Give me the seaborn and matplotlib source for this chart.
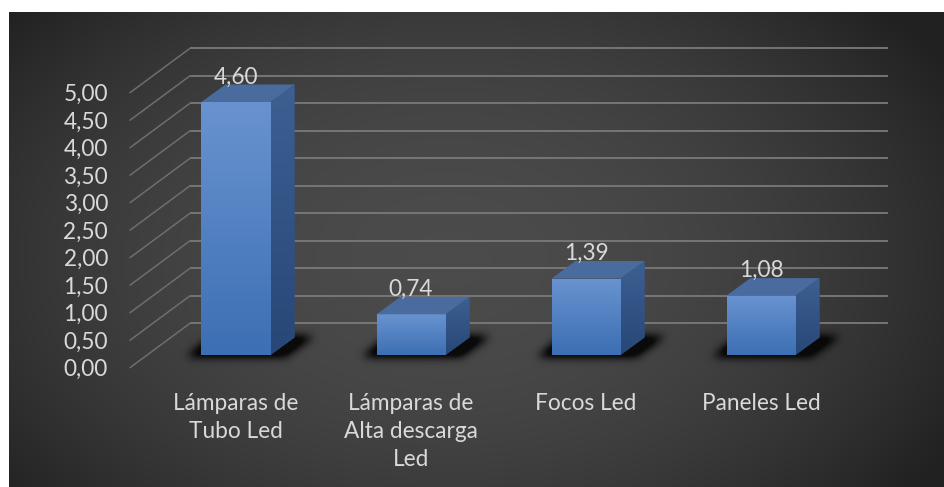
import numpy as np
import pandas as pd
import matplotlib
matplotlib.use("Agg")
import matplotlib.pyplot as plt
import seaborn as sns
from matplotlib.patches import Polygon
from matplotlib.path import Path
from matplotlib.colors import LinearSegmentedColormap

# ---- data ----
categories = ["Lámparas de\nTubo Led", "Lámparas de\nAlta descarga\nLed", "Focos Led", "Paneles Led"]
values = [4.60, 0.74, 1.39, 1.08]
value_labels = ["4,60", "0,74", "1,39", "1,08"]
y_ticks = [0.0, 0.5, 1.0, 1.5, 2.0, 2.5, 3.0, 3.5, 4.0, 4.5, 5.0]
y_tick_labels = ["0,00", "0,50", "1,00", "1,50", "2,00", "2,50", "3,00", "3,50", "4,00", "4,50", "5,00"]
y_max = 5.5

# ---- canvas geometry (pixels) ----
W, H, DPI = 945, 487, 100
PX_CAT = 175.0      # pixels between category centres
PX_VAL = 55.0       # pixels per value unit
X0_PX = 236.0       # centre of the first category
BASE_PX = 355.0     # baseline of the bars (from top)
AX_L, AX_R = 130.0, 888.0

def dx(px):
    return px / PX_CAT

def dy(px):
    return px / PX_VAL

def xdata(px):
    return (px - X0_PX) / PX_CAT

def gauss_blur(a, sigma):
    k = np.arange(-3 * sigma, 3 * sigma + 1)
    k = np.exp(-0.5 * (k / sigma) ** 2)
    k /= k.sum()
    a = np.apply_along_axis(lambda m: np.convolve(m, k, mode="same"), 0, a)
    a = np.apply_along_axis(lambda m: np.convolve(m, k, mode="same"), 1, a)
    return a

sns.set_theme(style="white")
plt.rcParams["font.family"] = ["Lato", "DejaVu Sans"]
TEXT = "#d9d9d9"
FS = 16.3

fig = plt.figure(figsize=(W / DPI, H / DPI), dpi=DPI, facecolor="white")

# dark panel with a soft radial glow
bg = fig.add_axes([9 / W, 0, 1 - 9 / W, 1 - 12 / H])
yy, xx = np.mgrid[0:1:300j, 0:1:600j]
r = np.sqrt(((xx - 0.47) / 0.62) ** 2 + ((yy - 0.52) / 0.80) ** 2)
g = 0.13 + 0.165 * np.clip(1 - r ** 2, 0, 1)
bg.imshow(np.dstack([g, g, g]), aspect="auto", extent=[0, 1, 0, 1], interpolation="bilinear")
bg.set_axis_off()

# main plotting axes
ax = fig.add_axes([AX_L / W, (H - BASE_PX) / H, (AX_R - AX_L) / W, y_max * PX_VAL / H])
ax.patch.set_alpha(0)

df = pd.DataFrame({"categoria": categories, "valor": values})
sns.barplot(data=df, x="categoria", y="valor", color="#4f80c4", width=69 / PX_CAT,
            saturation=1, ax=ax, zorder=5, linewidth=0)

ax.set_xlim(xdata(AX_L), xdata(AX_R))
ax.set_ylim(0, y_max)
for s in ax.spines.values():
    s.set_visible(False)
ax.set_xlabel("")
ax.set_ylabel("")
ax.set_yticks([])
ax.tick_params(axis="x", length=0, pad=27, labelsize=FS, labelcolor=TEXT)
for lab in ax.get_xticklabels():
    lab.set_linespacing(1.43)

# back wall gridlines and side-wall diagonals
wall_up = dy(BASE_PX - 323.3)
front_drop = dy(14.7)
x_back = xdata(190)
for v in y_ticks:
    yb = v + wall_up
    ax.plot([x_back, xdata(AX_R)], [yb, yb], color="#7a7a7a",
            lw=1.3, zorder=1, clip_on=False, solid_capstyle="butt")
    ax.plot([xdata(AX_L), x_back], [v - front_drop + dy(2), yb], color="#6e6e6e",
            lw=1.1, zorder=1, clip_on=False)

# y tick labels along the front edge
for v, t in zip(y_ticks, y_tick_labels):
    ax.text(xdata(108), v - front_drop, t, ha="right", va="center", fontsize=FS,
            color=TEXT, clip_on=False)

# 3D faces for each bar
ddx_px, ddy_px = 24.0, 17.5
ddx, ddy = dx(ddx_px), dy(ddy_px)
front_cmap = LinearSegmentedColormap.from_list("front", ["#3c6fb3", "#6993d0"])
side_cmap = LinearSegmentedColormap.from_list("side", ["#274777", "#3d5f92"])
grad = np.linspace(0, 1, 256).reshape(-1, 1)

bars = [p for p in ax.patches]
for p, lbl in zip(bars, value_labels):
    x0, w, h = p.get_x(), p.get_width(), p.get_height()
    x1 = x0 + w
    wpx = w * PX_CAT

    # soft floor shadow, built in a local pixel grid
    pad = 30
    gx = np.arange(-pad, wpx + ddx_px + pad + 20)
    gy = np.arange(-pad, ddy_px + pad)
    GX, GY = np.meshgrid(gx, gy)
    foot = Path([(-16, -3), (wpx + 14, -3), (wpx + ddx_px + 20, ddy_px + 1), (ddx_px - 14, ddy_px + 1)])
    inside = foot.contains_points(np.column_stack([GX.ravel(), GY.ravel()])).reshape(GX.shape)
    alpha = np.clip(gauss_blur(inside.astype(float), 4.5) * 1.5, 0, 0.95)
    rgba = np.zeros(GX.shape + (4,))
    rgba[..., 0:3] = 0.03
    rgba[..., 3] = alpha
    ax.imshow(rgba, origin="lower", aspect="auto", interpolation="bilinear", zorder=2,
              extent=[x0 + dx(gx[0]), x0 + dx(gx[-1]), dy(gy[0]), dy(gy[-1])], clip_on=False)

    # front face gradient
    im = ax.imshow(grad, cmap=front_cmap, origin="lower", aspect="auto",
                   extent=[x0, x1, 0, h], zorder=5.5, interpolation="bilinear")
    im.set_clip_path(p)

    # side face
    side = Polygon([(x1, 0), (x1 + ddx, ddy), (x1 + ddx, h + ddy), (x1, h)], closed=True,
                   facecolor="#34548a", edgecolor="none", zorder=5, clip_on=False)
    ax.add_patch(side)
    ims = ax.imshow(grad, cmap=side_cmap, origin="lower", aspect="auto",
                    extent=[x1, x1 + ddx, 0, h + ddy], zorder=5.2, interpolation="bilinear")
    ims.set_clip_path(side)

    # top face
    ax.add_patch(Polygon([(x0, h), (x1, h), (x1 + ddx, h + ddy), (x0 + ddx, h + ddy)],
                         closed=True, facecolor="#4a6b9d", edgecolor="none", zorder=6,
                         clip_on=False))

    # value label
    ax.text(x0 + w / 2, h + dy(25), lbl, ha="center", va="center", fontsize=FS,
            color=TEXT, zorder=8, clip_on=False)

ax.set_xlim(xdata(AX_L), xdata(AX_R))
ax.set_ylim(0, y_max)

fig.savefig("out.png", dpi=DPI, facecolor="white")
